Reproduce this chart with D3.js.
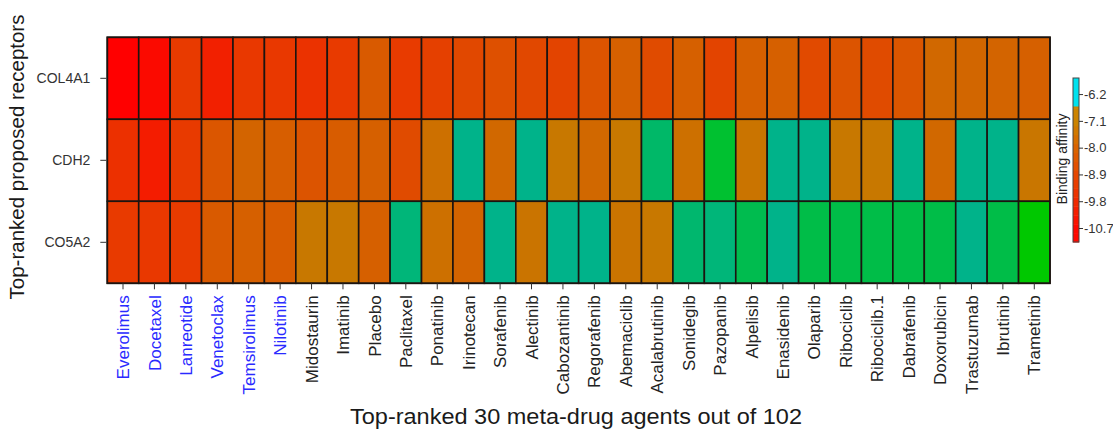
<!DOCTYPE html>
<html>
<head>
<meta charset="utf-8">
<script src="https://cdn.jsdelivr.net/npm/d3@7/dist/d3.min.js"></script>
<style>
  html, body { margin: 0; padding: 0; background: #fff; }
  svg { display: block; font-family: "Liberation Sans", Arial, sans-serif; }
</style>
</head>
<body>
<svg id="chart" width="1113" height="434"></svg>
<script>
// Receptors (rows) and drug agents (columns)
const receptors = ["COL4A1", "CDH2", "CO5A2"];
const drugs = ["Everolimus", "Docetaxel", "Lanreotide", "Venetoclax", "Temsirolimus", "Nilotinib",
  "Midostaurin", "Imatinib", "Placebo", "Paclitaxel", "Ponatinib", "Irinotecan", "Sorafenib",
  "Alectinib", "Cabozantinib", "Regorafenib", "Abemaciclib", "Acalabrutinib", "Sonidegib",
  "Pazopanib", "Alpelisib", "Enasidenib", "Olaparib", "Ribociclib", "Ribociclib.1", "Dabrafenib",
  "Doxorubicin", "Trastuzumab", "Ibrutinib", "Trametinib"];
const highlightedDrugs = ["Everolimus", "Docetaxel", "Lanreotide", "Venetoclax", "Temsirolimus", "Nilotinib"];

// Binding affinity (kcal/mol) per receptor, in drug order
const col4a1 = [-10.70, -10.49, -9.50, -10.04, -9.54, -9.54, -9.67, -9.50, -8.37, -9.48,
  -9.29, -9.01, -8.72, -9.01, -9.15, -8.58, -8.13, -8.90, -8.13, -9.15,
  -8.13, -8.13, -8.95, -8.58, -8.90, -8.51, -7.79, -7.87, -7.96, -8.13];
const cdh2 = [-9.71, -10.12, -9.50, -8.51, -7.96, -8.20, -8.58, -8.30, -8.13, -8.90,
  -7.44, -6.20, -7.79, -6.20, -7.10, -7.79, -7.10, -6.30, -7.44, -6.46,
  -7.27, -6.20, -6.20, -7.10, -7.10, -6.20, -7.79, -6.20, -6.20, -7.20];
const co5a2 = [-9.50, -9.54, -9.48, -8.37, -8.13, -8.30, -7.10, -7.10, -8.13, -6.25,
  -7.44, -7.96, -6.20, -7.27, -6.20, -6.20, -7.27, -7.10, -6.28, -6.25,
  -6.37, -6.20, -6.39, -6.39, -6.39, -6.39, -6.39, -6.20, -6.39, -6.60];
const affinityRows = [col4a1, cdh2, co5a2];

// Cell colour ramp
const colorStopValues = [-10.7, -9.5, -8.3, -7.1, -6.6, -6.2];
const colorStopColors = ["#ff0000", "#e83a00", "#d85c00", "#c87800", "#00c800", "#00b38a"];

// Colour key
const legendTicks = [-6.2, -7.1, -8.0, -8.9, -9.8, -10.7];
const legendRange = [-11.17, -5.66];
const legendStopValues = [-10.7, -9.8, -8.9, -8.0, -7.1];
const legendStopColors = ["#ff0800", "#f02a00", "#e64800", "#da6400", "#cc8400"];
const legendCyanFrom = -6.6;
const legendCyan = "#00e2ee";

const svg = d3.select("#chart");

const plot = { left: 107.3, right: 1050, top: 37.3, bottom: 283.3 };

const x = d3.scaleBand().domain(drugs).range([plot.left, plot.right]).padding(0);
const y = d3.scaleBand().domain(receptors).range([plot.top, plot.bottom]).padding(0);
const color = d3.scaleLinear().domain(colorStopValues).range(colorStopColors).clamp(true);

const cells = [];
receptors.forEach((r, i) => {
  drugs.forEach((d, j) => cells.push({ receptor: r, drug: d, value: affinityRows[i][j] }));
});

svg.append("g")
  .selectAll("rect")
  .data(cells)
  .join("rect")
  .attr("x", d => x(d.drug))
  .attr("y", d => y(d.receptor))
  .attr("width", x.bandwidth())
  .attr("height", y.bandwidth())
  .attr("fill", d => color(d.value))
  .attr("stroke", "#1c1410")
  .attr("stroke-width", 1.6);

svg.append("rect")
  .attr("x", plot.left).attr("y", plot.top)
  .attr("width", plot.right - plot.left).attr("height", plot.bottom - plot.top)
  .attr("fill", "none").attr("stroke", "#1c1410").attr("stroke-width", 1.6);

// Row axis
const yAxis = svg.append("g")
  .attr("transform", `translate(${plot.left - 1},0)`)
  .call(d3.axisLeft(y).tickSize(6).tickPadding(10));
yAxis.select(".domain").remove();
yAxis.selectAll(".tick line").attr("stroke", "#333");
yAxis.selectAll(".tick text")
  .attr("font-size", 14)
  .attr("fill", "#333")
  .style("font-family", "'Liberation Sans', Arial, sans-serif");

// Column axis with vertical labels
const xAxis = svg.append("g")
  .attr("transform", `translate(0,${plot.bottom})`)
  .call(d3.axisBottom(x).tickSize(6));
xAxis.select(".domain").remove();
xAxis.selectAll(".tick line").attr("stroke", "#333");
xAxis.selectAll(".tick text")
  .attr("transform", "rotate(-90)")
  .attr("x", -12)
  .attr("y", 0)
  .attr("dy", "0.36em")
  .attr("text-anchor", "end")
  .attr("font-size", 17)
  .style("font-family", "'Liberation Sans', Arial, sans-serif")
  .attr("fill", d => highlightedDrugs.includes(d) ? "#2a2aff" : "#222");

// Axis titles
svg.append("text")
  .attr("transform", "translate(24,157) rotate(-90)")
  .attr("text-anchor", "middle")
  .attr("font-size", 20.5)
  .attr("fill", "#1a1a1a")
  .text("Top-ranked proposed receptors");

svg.append("text")
  .attr("x", 576)
  .attr("y", 424)
  .attr("text-anchor", "middle")
  .attr("font-size", 22)
  .attr("textLength", 452)
  .attr("lengthAdjust", "spacingAndGlyphs")
  .attr("fill", "#1a1a1a")
  .text("Top-ranked 30 meta-drug agents out of 102");

// Colour key
const key = { x: 1073, width: 6, top: 78, bottom: 242 };
const ky = d3.scaleLinear().domain(legendRange).range([key.bottom, key.top]);
const legendColor = d3.scaleLinear().domain(legendStopValues).range(legendStopColors).clamp(true);

const bandStep = 0.3;
const bands = d3.range(legendRange[0], legendCyanFrom - 1e-9, bandStep).map(v0 => {
  const v1 = Math.min(v0 + bandStep, legendCyanFrom);
  return { v0, v1, fill: legendColor((v0 + v1) / 2) };
});
bands.push({ v0: legendCyanFrom, v1: legendRange[1], fill: legendCyan });

const keyG = svg.append("g");
keyG.selectAll("rect.band")
  .data(bands)
  .join("rect")
  .attr("class", "band")
  .attr("x", key.x)
  .attr("y", d => ky(d.v1))
  .attr("width", key.width)
  .attr("height", d => ky(d.v0) - ky(d.v1) + 0.5)
  .attr("fill", d => d.fill);
keyG.append("rect")
  .attr("x", key.x).attr("y", key.top)
  .attr("width", key.width).attr("height", key.bottom - key.top)
  .attr("fill", "none").attr("stroke", "#444").attr("stroke-width", 1);

const keyAxis = svg.append("g")
  .attr("transform", `translate(${key.x + key.width},0)`)
  .call(d3.axisRight(ky).tickValues(legendTicks).tickFormat(d => d.toFixed(1)).tickSize(4).tickPadding(1));
keyAxis.select(".domain").remove();
keyAxis.selectAll(".tick line").attr("stroke", "#333");
keyAxis.selectAll(".tick text")
  .attr("font-size", 13)
  .attr("fill", "#333")
  .style("font-family", "'Liberation Sans', Arial, sans-serif");

svg.append("text")
  .attr("transform", "translate(1067,159) rotate(-90)")
  .attr("text-anchor", "middle")
  .attr("font-size", 14)
  .attr("fill", "#222")
  .text("Binding affinity");
</script>
</body>
</html>
